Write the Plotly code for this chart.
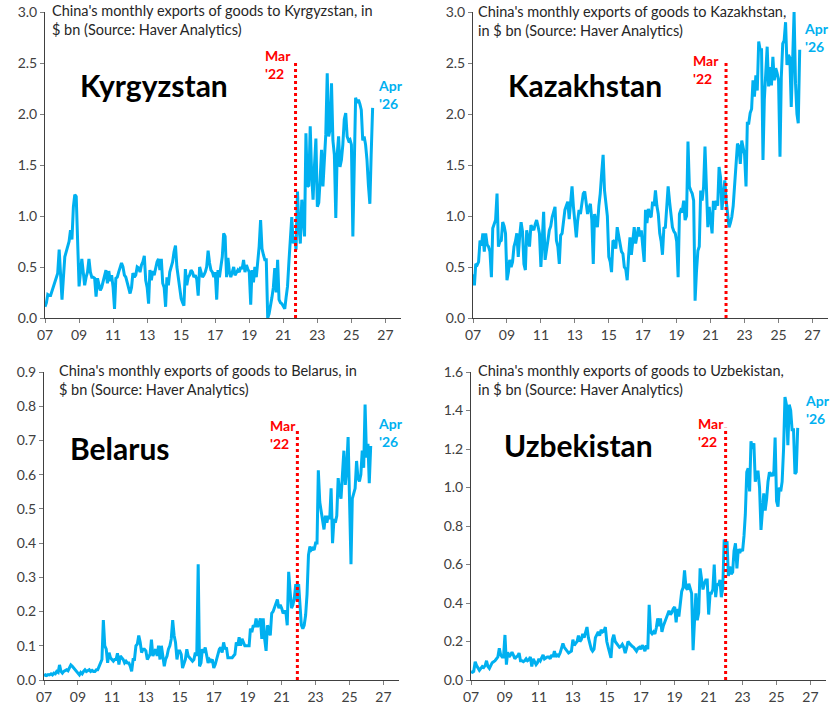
import pandas as pd
import plotly.graph_objects as go

# monthly exports, $ bn, Jan 2007 .. Apr 2026 (one row per year)
kyrgyzstan = [
    0.11, 0.15, 0.23, 0.22, 0.22, 0.27, 0.30, 0.35, 0.40, 0.44, 0.67, 0.37,
    0.18, 0.40, 0.60, 0.65, 0.70, 0.75, 0.86, 0.77, 1.09, 1.21, 1.19, 0.80,
    0.31, 0.45, 0.58, 0.45, 0.32, 0.40, 0.45, 0.58, 0.45, 0.40, 0.40, 0.39,
    0.21, 0.39, 0.32, 0.27, 0.30, 0.35, 0.40, 0.47, 0.34, 0.46, 0.36, 0.42,
    0.30, 0.09, 0.39, 0.40, 0.45, 0.50, 0.54, 0.50, 0.42, 0.40, 0.35, 0.30,
    0.24, 0.30, 0.44, 0.40, 0.42, 0.50, 0.49, 0.45, 0.52, 0.55, 0.61, 0.37,
    0.30, 0.14, 0.47, 0.37, 0.46, 0.42, 0.50, 0.55, 0.58, 0.47, 0.58, 0.34,
    0.30, 0.11, 0.40, 0.32, 0.45, 0.50, 0.55, 0.65, 0.71, 0.50, 0.40, 0.30,
    0.19, 0.15, 0.12, 0.48, 0.32, 0.40, 0.42, 0.47, 0.45, 0.40, 0.42, 0.38,
    0.22, 0.50, 0.45, 0.40, 0.42, 0.45, 0.50, 0.66, 0.54, 0.47, 0.45, 0.40,
    0.45, 0.18, 0.47, 0.40, 0.50, 0.60, 0.83, 0.80, 0.40, 0.59, 0.45, 0.40,
    0.45, 0.50, 0.42, 0.45, 0.47, 0.45, 0.50, 0.48, 0.57, 0.45, 0.52, 0.48,
    0.45, 0.13, 0.47, 0.35, 0.50, 0.40, 0.55, 0.70, 0.96, 0.68, 0.62, 0.57,
    0.57, 0.00, 0.04, 0.11, 0.20, 0.30, 0.49, 0.25, 0.57, 0.18, 0.15, 0.14,
    0.12, 0.09, 0.20, 0.31, 0.55, 0.80, 0.99, 0.73, 0.80, 0.67, 1.24, 0.90,
    0.73, 1.16, 1.00, 0.80, 1.81, 1.29, 1.30, 1.88, 1.40, 1.16, 1.50, 1.76,
    1.09, 1.13, 1.35, 1.65, 1.29, 1.60, 1.80, 2.40, 1.78, 1.85, 2.30, 1.74,
    1.60, 0.98, 1.60, 1.78, 1.48, 1.55, 1.70, 1.95, 2.01, 1.78, 1.74, 1.75,
    1.70, 0.80, 1.50, 2.16, 2.11, 2.14, 2.10, 2.04, 1.74, 1.78, 1.70, 1.55,
    1.30, 1.12, 1.60, 2.06,
]

kazakhstan = [
    0.43, 0.32, 0.53, 0.52, 0.55, 0.76, 0.71, 0.83, 0.65, 0.83, 0.72, 0.70,
    0.65, 0.40, 0.88, 0.92, 0.96, 1.22, 0.70, 0.75, 0.76, 0.94, 0.90, 0.83,
    0.37, 0.45, 0.57, 0.50, 0.55, 0.70, 0.75, 0.83, 0.60, 0.80, 0.94, 0.85,
    0.53, 0.47, 0.86, 0.78, 0.70, 0.91, 0.88, 0.86, 0.92, 0.96, 0.90, 0.83,
    0.50, 0.75, 1.04, 0.57, 0.65, 0.76, 0.86, 0.90, 0.99, 1.05, 1.09, 0.76,
    0.70, 0.53, 0.81, 0.83, 0.95, 1.06, 1.10, 1.14, 0.97, 1.10, 1.29, 1.09,
    0.90, 0.79, 0.95, 1.06, 1.02, 1.15, 1.22, 1.24, 1.10, 1.02, 1.08, 1.12,
    0.96, 0.53, 1.02, 0.95, 0.89, 1.10, 1.22, 1.42, 1.60, 1.25, 1.10, 1.00,
    0.60, 0.55, 0.45, 0.76, 0.75, 0.68, 0.89, 0.80, 0.73, 0.65, 0.63, 0.50,
    0.48, 0.37, 0.60, 0.79, 0.62, 0.75, 0.89, 0.73, 0.80, 0.89, 0.80, 0.86,
    0.70, 0.55, 1.06, 0.93, 1.07, 1.00, 0.99, 1.14, 1.10, 1.25, 1.10, 1.02,
    0.83, 0.75, 0.62, 0.89, 0.88, 1.05, 1.29, 1.14, 1.00, 0.89, 0.85, 0.83,
    0.75, 0.40, 1.02, 1.06, 1.05, 1.15, 0.96, 1.00, 1.73, 1.29, 1.25, 1.22,
    1.15, 0.17, 0.45, 0.66, 0.70, 1.25, 1.15, 1.28, 1.68, 1.20, 0.89, 1.09,
    0.95, 0.83, 1.15, 1.06, 1.15, 1.10, 1.48, 1.38, 1.06, 1.20, 1.35, 1.15,
    1.00, 0.89, 0.93, 0.99, 1.10, 1.29, 1.50, 1.71, 1.68, 1.51, 1.74, 1.65,
    1.60, 1.29, 1.91, 1.91, 2.01, 2.05, 2.33, 2.17, 2.38, 2.23, 2.71, 2.63,
    2.63, 1.55, 2.14, 2.40, 2.66, 2.27, 2.46, 2.28, 2.56, 2.33, 2.45, 2.40,
    2.33, 1.58, 2.36, 2.69, 2.72, 2.90, 2.48, 2.58, 2.55, 2.07, 2.56, 3.00,
    2.30, 2.00, 1.91, 2.63,
]

belarus = [
    0.012, 0.015, 0.013, 0.016, 0.015, 0.018, 0.015, 0.020, 0.018, 0.025, 0.022, 0.044,
    0.025, 0.020, 0.025, 0.028, 0.030, 0.027, 0.035, 0.044, 0.040, 0.035, 0.030, 0.028,
    0.020, 0.015, 0.022, 0.018, 0.025, 0.030, 0.025, 0.028, 0.030, 0.025, 0.028, 0.025,
    0.025, 0.030, 0.030, 0.040, 0.050, 0.060, 0.175, 0.100, 0.090, 0.050, 0.080, 0.065,
    0.060, 0.055, 0.060, 0.060, 0.078, 0.045, 0.070, 0.065, 0.060, 0.050, 0.055, 0.050,
    0.050, 0.040, 0.025, 0.060, 0.060, 0.100, 0.105, 0.130, 0.110, 0.080, 0.090, 0.090,
    0.085, 0.060, 0.070, 0.075, 0.118, 0.070, 0.080, 0.090, 0.070, 0.100, 0.060, 0.100,
    0.070, 0.040, 0.060, 0.070, 0.090, 0.100, 0.120, 0.175, 0.130, 0.110, 0.060, 0.085,
    0.085, 0.075, 0.035, 0.050, 0.060, 0.090, 0.070, 0.065, 0.060, 0.055, 0.060, 0.080,
    0.070, 0.338, 0.040, 0.050, 0.090, 0.080, 0.095, 0.070, 0.050, 0.060, 0.055, 0.060,
    0.035, 0.045, 0.060, 0.070, 0.090, 0.095, 0.080, 0.110, 0.090, 0.095, 0.065, 0.065,
    0.065, 0.065, 0.070, 0.075, 0.110, 0.100, 0.125, 0.100, 0.120, 0.110, 0.100, 0.100,
    0.100, 0.100, 0.150, 0.140, 0.160, 0.155, 0.180, 0.155, 0.165, 0.180, 0.120, 0.180,
    0.120, 0.085, 0.160, 0.150, 0.130, 0.195, 0.200, 0.210, 0.220, 0.235, 0.210, 0.220,
    0.210, 0.195, 0.200, 0.200, 0.160, 0.316, 0.260, 0.210, 0.220, 0.240, 0.280, 0.230,
    0.280, 0.220, 0.160, 0.150, 0.160, 0.190, 0.250, 0.365, 0.390, 0.380, 0.385, 0.380,
    0.400, 0.400, 0.613, 0.520, 0.490, 0.470, 0.440, 0.480, 0.460, 0.480, 0.470, 0.560,
    0.400, 0.470, 0.460, 0.480, 0.590, 0.550, 0.530, 0.600, 0.670, 0.570, 0.620, 0.710,
    0.560, 0.338, 0.530, 0.550, 0.560, 0.640, 0.590, 0.580, 0.600, 0.670, 0.620, 0.805,
    0.650, 0.690, 0.575, 0.684,
]

uzbekistan = [
    0.043, 0.040, 0.045, 0.095, 0.075, 0.060, 0.050, 0.060, 0.070, 0.065, 0.075, 0.100,
    0.070, 0.060, 0.080, 0.090, 0.095, 0.100, 0.110, 0.120, 0.165, 0.130, 0.120, 0.120,
    0.234, 0.080, 0.145, 0.120, 0.130, 0.145, 0.130, 0.110, 0.120, 0.125, 0.140, 0.100,
    0.100, 0.095, 0.100, 0.110, 0.100, 0.105, 0.120, 0.070, 0.110, 0.095, 0.080, 0.090,
    0.110, 0.100, 0.120, 0.130, 0.110, 0.115, 0.120, 0.120, 0.110, 0.130, 0.120, 0.150,
    0.120, 0.130, 0.125, 0.140, 0.160, 0.190, 0.170, 0.160, 0.150, 0.140, 0.145, 0.150,
    0.210, 0.180, 0.190, 0.200, 0.230, 0.200, 0.210, 0.240, 0.220, 0.250, 0.275, 0.220,
    0.190, 0.160, 0.150, 0.160, 0.220, 0.240, 0.250, 0.230, 0.260, 0.250, 0.255, 0.275,
    0.200, 0.170, 0.140, 0.115, 0.210, 0.235, 0.200, 0.190, 0.180, 0.170, 0.175, 0.185,
    0.170, 0.140, 0.165, 0.200, 0.190, 0.180, 0.175, 0.170, 0.160, 0.150, 0.165, 0.170,
    0.160, 0.180, 0.170, 0.150, 0.180, 0.160, 0.390, 0.250, 0.240, 0.250, 0.240, 0.270,
    0.320, 0.280, 0.320, 0.250, 0.280, 0.300, 0.310, 0.330, 0.360, 0.340, 0.350, 0.370,
    0.380, 0.300, 0.370, 0.330, 0.400, 0.460, 0.480, 0.570, 0.480, 0.470, 0.500, 0.480,
    0.450, 0.155, 0.300, 0.450, 0.310, 0.350, 0.580, 0.520, 0.470, 0.500, 0.520, 0.520,
    0.340, 0.450, 0.450, 0.470, 0.600, 0.430, 0.500, 0.490, 0.520, 0.430, 0.480, 0.730,
    0.700, 0.720, 0.540, 0.590, 0.550, 0.560, 0.670, 0.710, 0.580, 0.680, 0.660, 0.680,
    0.670, 0.750, 0.860, 1.080, 1.100, 0.980, 1.240, 1.200, 1.230, 1.030, 1.080, 1.080,
    1.000, 0.780, 0.900, 0.970, 0.880, 0.940, 1.030, 1.080, 1.060, 1.070, 1.060, 1.260,
    0.930, 0.900, 1.000, 0.980, 1.030, 1.200, 1.470, 1.430, 1.220, 1.430, 1.400, 1.300,
    1.300, 1.070, 1.080, 1.310,
]

countries = ["Kyrgyzstan", "Kazakhstan", "Belarus", "Uzbekistan"]
series = [kyrgyzstan, kazakhstan, belarus, uzbekistan]
y_max = [3.0, 3.0, 0.9, 1.6]
y_step = [0.5, 0.5, 0.1, 0.2]
# where the red dotted "Mar '22" line was drawn, and how tall it is
marker_date = ["2021-09-20", "2021-11-28", "2021-12-05", "2022-01-01"]
marker_top = [2.51, 2.50, 0.733, 1.31]
subtitles = [
    "China's monthly exports of goods to Kyrgyzstan, in<br>$ bn (Source: Haver Analytics)",
    "China's monthly exports of goods to Kazakhstan,<br>in $ bn (Source: Haver Analytics)",
    "China's monthly exports of goods to Belarus, in<br>$ bn (Source: Haver Analytics)",
    "China's monthly exports of goods to Uzbekistan,<br>in $ bn (Source: Haver Analytics)",
]

W, H = 837, 712
BLUE = "#00B0F0"
RED = "#FF0000"
FONT = "Lato"


def px(x):
    return x / W


def py(y):
    return 1 - y / H


# pixel boxes of each panel: left, right, top, bottom
boxes = [(45, 401, 12, 318), (473, 828, 12, 318), (44, 399, 372, 680), (471, 826, 372, 680)]
# subtitle (left x, middle y), country label centre, Mar'22 label (left x, mid y), Apr'26 label (left x, mid y)
sub_pos = [(50, 19.5), (476, 20.5), (57, 379.5), (476, 379.5)]
name_pos = [(154, 85), (585, 85), (120, 448), (578, 445)]
mar_pos = [(263, 64.5), (691, 69), (268, 434), (696, 432)]
apr_pos = [(376, 94.5), (802, 37), (376, 433), (803, 409)]

fig = go.Figure()
annotations = []
shapes = []

for i, name in enumerate(countries):
    ax = "" if i == 0 else str(i + 1)
    dates = pd.date_range("2007-01-01", periods=len(series[i]), freq="MS")
    fig.add_trace(go.Scatter(
        x=dates, y=series[i], mode="lines",
        line=dict(color=BLUE, width=3),
        xaxis="x" + ax, yaxis="y" + ax, showlegend=False,
    ))
    l, r, t, b = boxes[i]
    fig.update_layout(**{
        "xaxis" + ax: dict(
            domain=[px(l), px(r)], anchor="y" + ax, automargin=False,
            range=["2007-01-01", "2027-12-01"],
            tick0="2007-01-01", dtick="M24", tickformat="%y",
            ticks="outside", ticklen=4, tickcolor="#7f7f7f",
            showline=True, linecolor="#404040", linewidth=1,
            showgrid=False, zeroline=False,
            tickfont=dict(family=FONT, size=14, color="#404040"),
        ),
        "yaxis" + ax: dict(
            domain=[py(b), py(t)], anchor="x" + ax, automargin=False,
            range=[0, y_max[i]], dtick=y_step[i], tickformat=".1f",
            ticks="outside", ticklen=4, tickcolor="#7f7f7f",
            showline=True, linecolor="#404040", linewidth=1,
            showgrid=False, zeroline=False,
            tickfont=dict(family=FONT, size=14, color="#404040"),
        ),
    })
    shapes.append(dict(
        type="line", xref="x" + ax, yref="y" + ax,
        x0=marker_date[i], x1=marker_date[i], y0=0, y1=marker_top[i],
        line=dict(color=RED, width=3, dash="dot"),
    ))
    annotations.append(dict(
        text=subtitles[i], xref="paper", yref="paper",
        x=px(sub_pos[i][0]), y=py(sub_pos[i][1]),
        xanchor="left", yanchor="middle", align="left", showarrow=False,
        font=dict(family=FONT, size=14.5, color="#262626"),
    ))
    annotations.append(dict(
        text="<b>" + name + "</b>", xref="paper", yref="paper",
        x=px(name_pos[i][0]), y=py(name_pos[i][1]),
        xanchor="center", yanchor="middle", showarrow=False,
        font=dict(family=FONT, size=30, color="#000000"),
    ))
    annotations.append(dict(
        text="<b>Mar<br>'22</b>", xref="paper", yref="paper",
        x=px(mar_pos[i][0]), y=py(mar_pos[i][1]),
        xanchor="left", yanchor="middle", align="left", showarrow=False,
        font=dict(family=FONT, size=14, color=RED),
    ))
    annotations.append(dict(
        text="<b>Apr<br>'26</b>", xref="paper", yref="paper",
        x=px(apr_pos[i][0]), y=py(apr_pos[i][1]),
        xanchor="left", yanchor="middle", align="left", showarrow=False,
        font=dict(family=FONT, size=14, color=BLUE),
    ))

fig.update_layout(
    width=W, height=H,
    margin=dict(l=0, r=0, t=0, b=0),
    paper_bgcolor="white", plot_bgcolor="white",
    font=dict(family=FONT),
    annotations=annotations, shapes=shapes,
)

# the page's default body margin would push the fixed-size figure off the window
fig.write_html(
    "out.html",
    config={"displayModeBar": False},
    post_script="document.body.style.margin = '0';",
)
